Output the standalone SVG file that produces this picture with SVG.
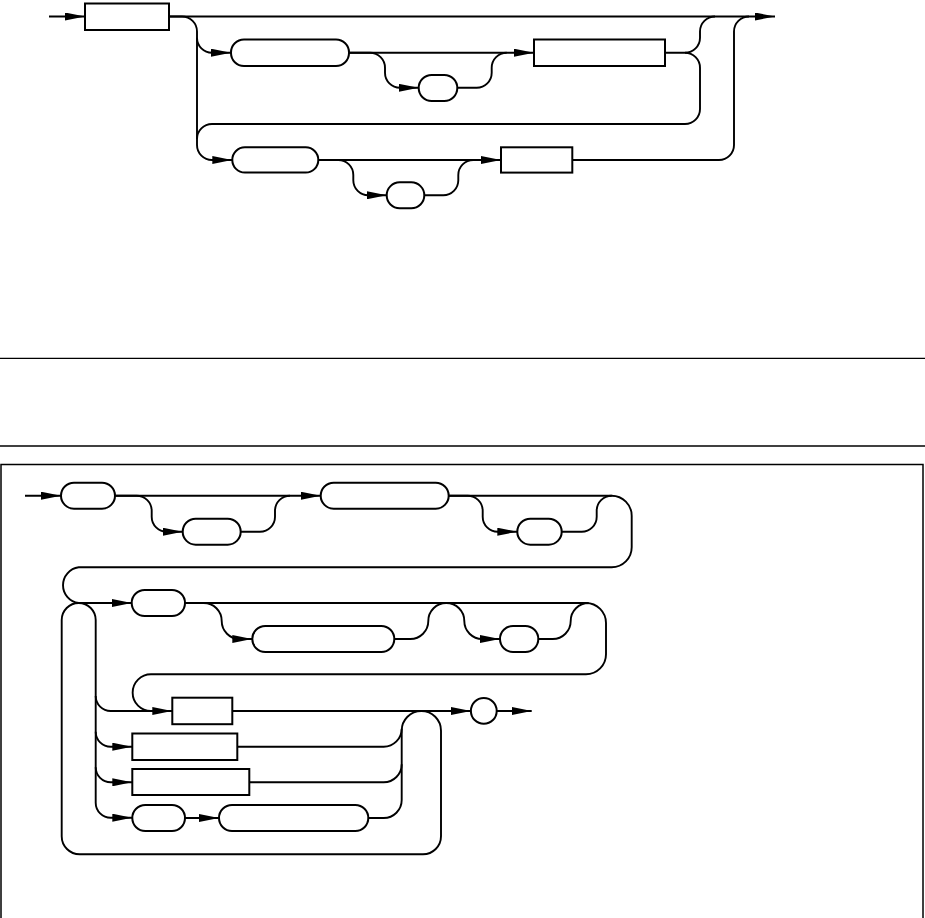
<svg xmlns="http://www.w3.org/2000/svg" width="925" height="918" viewBox="0 0 925 918">
<style>
.n{fill:#fff;stroke:#000;stroke-width:2}
.c path{fill:none;stroke:#000;stroke-width:1.9}
.sep{stroke:#000;stroke-width:1.3}
</style>
<defs>
<marker id="arr" markerUnits="userSpaceOnUse" markerWidth="20" markerHeight="8" refX="20" refY="4" orient="auto" viewBox="0 0 20 8"><path d="M0,0 L20,4 L0,8 z" fill="#000"/></marker>
</defs>
<rect width="925" height="918" fill="#fff"/>
<line class="sep" x1="0" y1="358.3" x2="925" y2="358.3"/>
<line class="sep" x1="0" y1="446" x2="925" y2="446"/>
<rect x="1" y="464.5" width="922" height="852.5" fill="none" stroke="#000" stroke-width="1.5"/>
<g id="connectors" class="c">
<path d="M49,16.5 H85" marker-end="url(#arr)"/>
<path d="M169,16.5 H775" marker-end="url(#arr)"/>
<path d="M169,16.5 H182 A15,15 0 0 1 197,31.5 V145 A15,15 0 0 0 212,160 H232.3" marker-end="url(#arr)"/>
<path d="M197,37.7 A15,15 0 0 0 212,52.7 H231" marker-end="url(#arr)"/>
<path d="M349,52.7 H534" marker-end="url(#arr)"/>
<path d="M349,52.7 H370 A15,15 0 0 1 385,67.7 V72.8 A15,15 0 0 0 400,87.8 H418.7" marker-end="url(#arr)"/>
<path d="M457.3,87.8 H476.7 A15,15 0 0 0 491.7,72.8 V67.7 A15,15 0 0 1 506.7,52.7"/>
<path d="M665,52.7 H685 A15,15 0 0 0 700,37.7 V31.5 A15,15 0 0 1 715,16.5"/>
<path d="M685,52.7 A15,15 0 0 1 700,67.7 V109 A15,15 0 0 1 685,124 H212 A15,15 0 0 0 197,139"/>
<path d="M318.3,160 H501" marker-end="url(#arr)"/>
<path d="M318.3,160 H338.3 A15,15 0 0 1 353.3,175 V180.3 A15,15 0 0 0 368.3,195.3 H386.7" marker-end="url(#arr)"/>
<path d="M424.3,195.3 H443.3 A15,15 0 0 0 458.3,180.3 V175 A15,15 0 0 1 473.3,160"/>
<path d="M572.3,160 H719 A15,15 0 0 0 734,145 V31.5 A15,15 0 0 1 749,16.5"/>

<path d="M25,495.7 H61" marker-end="url(#arr)"/>
<path d="M115,495.7 H320.7" marker-end="url(#arr)"/>
<path d="M115,495.7 H136.7 A15,15 0 0 1 151.7,510.7 V516.7 A15,15 0 0 0 166.7,531.7 H182.7" marker-end="url(#arr)"/>
<path d="M240.7,531.7 H260 A15,15 0 0 0 275,516.7 V510.7 A15,15 0 0 1 290,495.7"/>
<path d="M448.7,495.7 H611.7 A20,20 0 0 1 631.7,515.7 V547.3 A20,20 0 0 1 611.7,567.3 H78.7 A18,18 0 0 0 78.7,603 H131.7" marker-end="url(#arr)"/>
<path d="M448.7,495.7 H467.7 A15,15 0 0 1 482.7,510.7 V516.7 A15,15 0 0 0 497.7,531.7 H517.3" marker-end="url(#arr)"/>
<path d="M561.7,531.7 H581.7 A15,15 0 0 0 596.7,516.7 V510.7 A15,15 0 0 1 611.7,495.7"/>
<path d="M185,603 H586 A20,20 0 0 1 606,623 V654.3 A20,20 0 0 1 586,674.3 H151 A18.3,18.3 0 0 0 151,711 H172.3" marker-end="url(#arr)"/>
<path d="M185,603 H203.7 A18,18 0 0 1 221.7,621 A18,18 0 0 0 239.7,639 H252.3" marker-end="url(#arr)"/>
<path d="M394.3,639 H410.3 A18,18 0 0 0 428.3,621 A18,18 0 0 1 446.3,603 A18,18 0 0 1 464.3,621 A18,18 0 0 0 482.3,639 H500" marker-end="url(#arr)"/>
<path d="M538.3,639 H552.7 A18,18 0 0 0 570.7,621 A18,18 0 0 1 588.7,603"/>
<path d="M78.7,603 A17,17 0 0 1 95.7,620 V802.7 A15,15 0 0 0 110.7,817.7 H132.3" marker-end="url(#arr)"/>
<path d="M95.7,696 A15,15 0 0 0 110.7,711 H151"/>
<path d="M95.7,731.7 A15,15 0 0 0 110.7,746.7 H132.3" marker-end="url(#arr)"/>
<path d="M95.7,767.3 A15,15 0 0 0 110.7,782.3 H132.3" marker-end="url(#arr)"/>
<path d="M232.3,711 H471" marker-end="url(#arr)"/>
<path d="M496.7,711 H531.7" marker-end="url(#arr)"/>
<path d="M185,818 H219" marker-end="url(#arr)"/>
<path d="M368.3,818 H383.7 A18,18 0 0 0 401.7,800 V730.65 A19.65,19.65 0 0 1 421.35,711 A19.65,19.65 0 0 1 441,730.65 V836.3 A18,18 0 0 1 423,854.3 H79.7 A18,18 0 0 1 61.7,836.3 V620 A17,17 0 0 1 78.7,603"/>
<path d="M237.3,746.7 H383.7 A18,18 0 0 0 401.7,728.7"/>
<path d="M249.3,782.3 H383.7 A18,18 0 0 0 401.7,764.3"/>
</g>
<g id="top-box-a"><rect class="n" x="85" y="3.5" width="84" height="26.5"/></g>
<g id="top-r2-oval"><rect class="n" x="231" y="39.5" width="118" height="26.5" rx="13"/></g>
<g id="top-r2-small"><rect class="n" x="418.7" y="75" width="38.6" height="26" rx="13"/></g>
<g id="top-r2-box"><rect class="n" x="534" y="39.5" width="131" height="26.5"/></g>
<g id="top-r3-oval"><rect class="n" x="232.3" y="147.3" width="86" height="25.3" rx="12.6"/></g>
<g id="top-r3-small"><rect class="n" x="386.7" y="182.3" width="37.6" height="26" rx="13"/></g>
<g id="top-r3-box"><rect class="n" x="501" y="147.3" width="71.3" height="25.3"/></g>

<g id="o1"><rect class="n" x="61" y="482.7" width="54" height="26" rx="13"/></g>
<g id="o1a"><rect class="n" x="182.7" y="518.7" width="58" height="26" rx="13"/></g>
<g id="o2"><rect class="n" x="320.7" y="482.7" width="128" height="26" rx="13"/></g>
<g id="o2b"><rect class="n" x="517.3" y="518.7" width="44.4" height="26" rx="13"/></g>
<g id="o3"><rect class="n" x="131.7" y="590" width="53.3" height="26" rx="13"/></g>
<g id="o4"><rect class="n" x="252.3" y="626" width="142" height="26" rx="13"/></g>
<g id="o5"><rect class="n" x="500" y="626" width="38.3" height="26" rx="13"/></g>
<g id="b1"><rect class="n" x="172.3" y="697.7" width="60" height="26.5"/></g>
<g id="c1"><circle class="n" cx="483.8" cy="710.9" r="12.9"/></g>
<g id="b2"><rect class="n" x="132.3" y="733.5" width="105" height="26.5"/></g>
<g id="b3"><rect class="n" x="132.3" y="769" width="117" height="26"/></g>
<g id="o6"><rect class="n" x="132.3" y="805" width="52.7" height="26" rx="13"/></g>
<g id="o7"><rect class="n" x="219" y="805" width="149.3" height="26" rx="13"/></g>
</svg>
